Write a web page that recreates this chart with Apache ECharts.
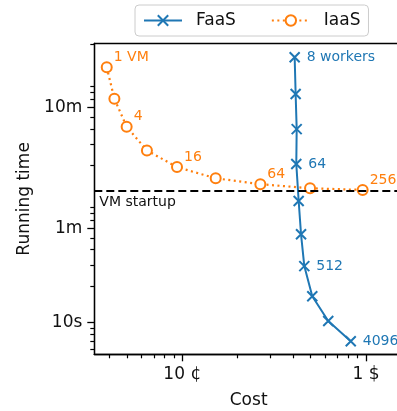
<!DOCTYPE html>
<html>
<head>
<meta charset="utf-8">
<script src="https://cdn.jsdelivr.net/npm/echarts@6/dist/echarts.min.js"></script>
<style>
  html, body { margin: 0; padding: 0; background: #fff; }
  #chart { width: 397px; height: 411px; }
</style>
</head>
<body>
<div id="chart"></div>
<script>
// FaaS: workers 8 .. 4096 (cost in $, time in s)
const faasCost = [0.409, 0.414, 0.4195, 0.4174, 0.430, 0.443, 0.4615, 0.510, 0.623, 0.826]
const faasTime = [1563, 777, 398, 205, 101.3, 53.7, 29.3, 16.5, 10.3, 7.0]
const faasLabels = ['8 workers', '', '', '64', '', '', '512', '', '', '4096']

// IaaS: 1 .. 256 VMs
const iaasCost = [0.0388, 0.0427, 0.0498, 0.0642, 0.0936, 0.152, 0.266, 0.496, 0.959]
const iaasTime = [1291, 710, 416, 265, 193, 156, 139.4, 129, 125]
const iaasLabels = ['1 VM', '', '4', '', '16', '', '64', '', '256']

const vmStartup = 122

// ticks
const xMajor = [0.1, 1]
const xMajorLabels = ['10 ¢', '1 $']
const xMinor = [0.04, 0.05, 0.06, 0.07, 0.08, 0.09, 0.2, 0.3, 0.4, 0.5, 0.6, 0.7, 0.8, 0.9]
const yMajor = [10, 60, 600]
const yMajorLabels = ['10s', '1m', '10m']
const yMinor = [6, 7, 8, 9, 20, 30, 40, 50, 70, 80, 90, 200, 300, 400, 500, 700, 800, 900, 2000]

const blue = '#1f77b4'
const orange = '#ff7f0e'
const font = 'DejaVu Sans'

// both axes are log10 scaled: values go through log10, labels come back
const lg = v => Math.log10(v)

function pick(lv, vals, labels) {
  let best = 0
  vals.forEach((t, i) => {
    if (Math.abs(lv - lg(t)) < Math.abs(lv - lg(vals[best]))) best = i
  })
  return labels[best]
}

const chart = echarts.init(document.getElementById('chart'))

const axisCommon = {
  type: 'value',
  scale: true,
  splitLine: { show: false },
  minorTick: { show: false },
  minorSplitLine: { show: false }
}
const xRange = { min: lg(0.0332), max: lg(1.59) }
const yRange = { min: lg(5.46), max: lg(2032) }
const spine = { show: true, onZero: false, lineStyle: { color: '#000', width: 1.3 } }
// invisible labels so the minor ticks have something to sit on
const ghostLabel = vals => ({
  show: true, customValues: vals.map(lg), formatter: () => '.',
  color: 'rgba(0,0,0,0)', fontSize: 6, margin: 2
})

const option = {
  animation: false,
  textStyle: { fontFamily: font },
  grid: {
    left: 94.3, top: 43.5, right: -6, bottom: 56.7,
    containLabel: false, outerBoundsMode: 'none'
  },
  legend: {
    data: ['FaaS', 'IaaS'],
    left: 135, top: 5,
    padding: [7, 8],
    itemWidth: 38, itemHeight: 13, itemGap: 35,
    borderColor: '#ccc', borderWidth: 1, borderRadius: 4,
    textStyle: { fontSize: 17, color: '#111', padding: [0, 0, 0, 9], fontFamily: font }
  },
  xAxis: [
    {
      // labels + long major ticks
      ...axisCommon, ...xRange, position: 'bottom', offset: 0,
      name: 'Cost', nameLocation: 'middle', nameGap: 38,
      nameTextStyle: { fontSize: 17, color: '#111', fontFamily: font },
      axisLine: spine,
      axisTick: { show: true, length: 7, customValues: xMajor.map(lg), lineStyle: { color: '#000', width: 1.3 } },
      axisLabel: {
        customValues: xMajor.map(lg), margin: 12, fontSize: 17, color: '#111',
        formatter: v => pick(v, xMajor, xMajorLabels)
      }
    },
    {
      // minor ticks
      ...axisCommon, ...xRange, position: 'bottom', offset: 0,
      axisLine: spine,
      axisTick: { show: true, length: 4, customValues: xMinor.map(lg), lineStyle: { color: '#000', width: 1.2 } },
      axisLabel: ghostLabel(xMinor)
    },
    {
      // top spine
      ...axisCommon, ...xRange, position: 'top', offset: 0,
      axisLine: spine,
      axisTick: { show: false },
      axisLabel: { show: false }
    }
  ],
  yAxis: [
    {
      ...axisCommon, ...yRange, position: 'left', offset: 0,
      name: 'Running time', nameLocation: 'middle', nameGap: 60, nameRotate: 90,
      nameTextStyle: { fontSize: 17, color: '#111', fontFamily: font },
      axisLine: spine,
      axisTick: { show: true, length: 7, customValues: yMajor.map(lg), lineStyle: { color: '#000', width: 1.3 } },
      axisLabel: {
        customValues: yMajor.map(lg), margin: 12, fontSize: 17, color: '#111',
        formatter: v => pick(v, yMajor, yMajorLabels)
      }
    },
    {
      // minor ticks
      ...axisCommon, ...yRange, position: 'left', offset: 0,
      axisLine: spine,
      axisTick: { show: true, length: 4, customValues: yMinor.map(lg), lineStyle: { color: '#000', width: 1.2 } },
      axisLabel: ghostLabel(yMinor)
    }
  ],
  series: [
    {
      name: 'FaaS',
      type: 'line',
      xAxisIndex: 0, yAxisIndex: 0,
      data: faasCost.map((c, i) => ({ value: [lg(c), lg(faasTime[i])], label: { show: faasLabels[i] !== '' } })),
      symbol: 'path://M0,0L10,10M10,0L0,10',
      symbolSize: 10,
      lineStyle: { color: blue, width: 2 },
      itemStyle: { color: blue, borderColor: blue, borderWidth: 2 },
      label: {
        position: 'right', distance: 6, fontSize: 14, color: blue, fontFamily: font,
        formatter: p => faasLabels[p.dataIndex]
      },
      z: 3
    },
    {
      name: 'IaaS',
      type: 'line',
      xAxisIndex: 1, yAxisIndex: 1,
      data: iaasCost.map((c, i) => ({ value: [lg(c), lg(iaasTime[i])], label: { show: iaasLabels[i] !== '' } })),
      symbol: 'emptyCircle',
      symbolSize: 10,
      lineStyle: { color: orange, width: 2.2, type: [2, 3.5] },
      itemStyle: { color: orange, borderColor: orange, borderWidth: 1.8 },
      label: {
        position: 'right', distance: 1, offset: [0, -10], fontSize: 14, color: orange, fontFamily: font,
        formatter: p => iaasLabels[p.dataIndex]
      },
      markLine: {
        silent: true,
        symbol: ['none', 'none'],
        data: [{ yAxis: lg(vmStartup) }],
        lineStyle: { color: '#000', width: 2, type: [8, 4] },
        label: {
          show: true, position: 'insideStartBottom', formatter: 'VM startup',
          fontSize: 14, color: '#111', fontFamily: font
        }
      },
      z: 4
    }
  ]
}

chart.setOption(option)
</script>
</body>
</html>
